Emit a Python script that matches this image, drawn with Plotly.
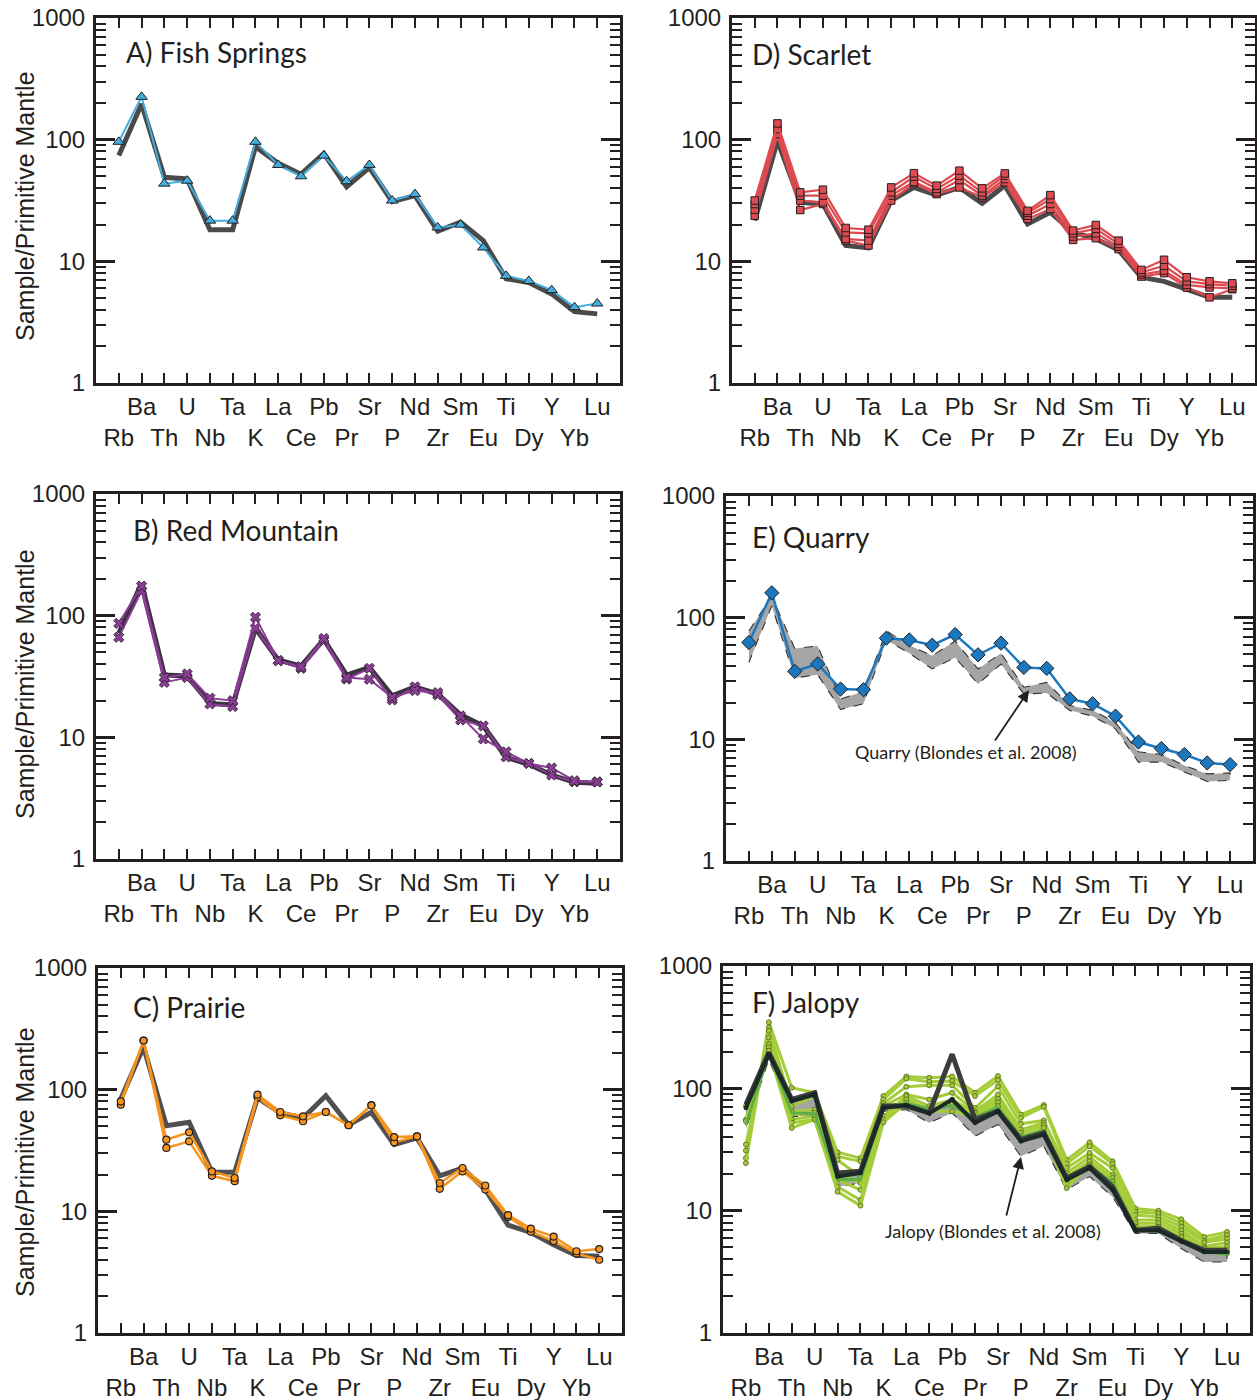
import plotly.graph_objects as go

W, H = 1257, 1400

ELEMENTS = ["Rb", "Ba", "Th", "U", "Nb", "Ta", "K", "La", "Ce", "Pb", "Pr",
            "Sr", "P", "Nd", "Zr", "Sm", "Eu", "Ti", "Dy", "Y", "Yb", "Lu"]
Y_TICKS = [1, 10, 100, 1000]
Y_TICK_LABELS = ["1", "10", "100", "1000"]
Y_MINOR = [2, 3, 4, 5, 6, 7, 8, 9, 20, 30, 40, 50, 60, 70, 80, 90,
           200, 300, 400, 500, 600, 700, 800, 900]
Y_TITLE = "Sample/Primitive Mantle"

# ---------------- A) Fish Springs ----------------
FISH_SPRINGS = [96, 225, 43.5, 46, 21.6, 21.6, 96, 62, 50, 74, 45.5, 62, 31.6,
                35.7, 19, 20, 13, 7.6, 6.9, 5.8, 4.2, 4.5]
FISH_SPRINGS_REF = [74, 196, 49, 47.5, 18.2, 18.2, 87.5, 64, 52, 77, 41, 59, 31,
                    34.7, 17.7, 21, 14.8, 7.2, 6.7, 5.4, 3.86, 3.7]

# ---------------- B) Red Mountain ----------------
RED_MTN_1 = [86.5, 175, 31, 33.2, 21, 20, 97, 42.7, 38.1, 65, 31, 30, 21.3, 24.2,
             23.3, 15, 9.7, 7.6, 6.1, 5.6, 4.4, 4.3]
RED_MTN_2 = [66.4, 160, 28.3, 31, 18.8, 17.9, 78.7, 42.7, 36.9, 62.4, 30.1, 36.9,
             20.3, 26, 22.3, 13.9, 12.4, 6.9, 6.1, 4.9, 4.3, 4.3]
RED_MTN_REF = [71.6, 184, 32.5, 31.9, 19, 18.4, 78.7, 43.2, 38.5, 63.8, 32.5, 37.6,
               21.9, 26, 22.7, 15.3, 12.4, 6.85, 6.0, 4.9, 4.27, 4.2]

# ---------------- C) Prairie ----------------
PRAIRIE_1 = [80, 253, 38.8, 44.6, 21.3, 18.8, 91, 65.5, 60.4, 65.5, 51, 74.3,
             40.8, 41.3, 17.1, 22.7, 16.3, 9.3, 7.2, 6.2, 4.7, 4.9]
PRAIRIE_2 = [75.3, 253, 33.2, 37.6, 19.6, 17.7, 86.5, 61.5, 55, 65.5, 51, 74.3,
             36.9, 41.3, 15.3, 21.3, 15.1, 9.0, 6.8, 5.7, 4.5, 4.0]
PRAIRIE_REF = [83.8, 224, 50.6, 54, 21, 21, 85.5, 64.3, 58.5, 89.3, 51.5, 65.2,
               35.3, 40.1, 19.6, 22.7, 15.1, 7.7, 6.7, 5.3, 4.33, 4.27]

# ---------------- D) Scarlet ----------------
SCARLET_1 = [31.6, 136, 36.9, 38.8, 18.8, 18.2, 40.5, 53, 41.9, 55.6, 39.8, 52.8,
             26, 35, 17.9, 19.9, 14.8, 8.5, 10.3, 7.4, 6.85, 6.6]
SCARLET_2 = [29.6, 122, 34.7, 34.7, 17.3, 17, 36.9, 49.6, 39.4, 50.6, 36.9, 50.6,
             25, 32.5, 17, 18.5, 13.9, 8.1, 9.2, 6.85, 6.5, 6.3]
SCARLET_3 = [26.6, 111, 31.6, 30.5, 15.3, 14.8, 34.7, 45, 36.9, 46.6, 34.7, 47.5,
             23.7, 29.6, 16, 17, 13.2, 7.8, 8.4, 6.4, 6.1, 6.0]
SCARLET_4 = [23.7, 110, 26.4, 29.6, 14.8, 13.5, 31.6, 43.8, 35.7, 40.5, 33.6, 44.6,
             22.3, 26.9, 15, 15.5, 12.6, 7.5, 8, 6.1, 5.06, 5.9]
SCARLET_REF = [21.6, 98, 30.5, 29.6, 13.5, 12.9, 31.5, 40.5, 35, 40.5, 30, 42,
               20.3, 25.3, 17.3, 15.3, 12.4, 7.4, 6.85, 5.9, 5.06, 5.06]

# ---------------- E) Quarry ----------------
QUARRY = [62.5, 160, 36.2, 41.6, 25.9, 25.6, 67.8, 65.6, 59.4, 72.6, 49.5, 61.7,
          39, 38.3, 21.5, 19.6, 15.5, 9.5, 8.4, 7.5, 6.4, 6.2]
QUARRY_BLONDES_HI = [77.8, 150, 55.8, 58.6, 21.5, 24.7, 77.8, 59.4, 48.6, 64.4, 37.9,
                     51, 26.8, 29.4, 19, 17.3, 13.7, 7.9, 7.5, 6.1, 5.2, 5.3]
QUARRY_BLONDES_LO = [42.9, 125, 31.9, 34, 17.6, 19.6, 65.6, 51, 37.9, 47.1, 28.5,
                     41.6, 23.6, 24, 17.3, 15.5, 12.2, 6.5, 6.5, 5.4, 4.5, 4.6]

# ---------------- F) Jalopy ----------------
JALOPY_1 = [26.9, 347, 101, 92, 30, 26.9, 86.5, 125, 122, 125, 92, 126, 61, 73, 26,
            36.2, 25.3, 10.4, 10, 8.5, 6.1, 6.7]
JALOPY_2 = [24.5, 315, 71.6, 86.5, 27.8, 25.3, 81.3, 120, 113, 115, 86.5, 117, 57.4,
            70.7, 24.2, 33.6, 24.2, 9.8, 9.5, 7.9, 5.7, 6.3]
JALOPY_3 = [31, 296, 65, 67, 26, 19, 75.4, 103, 106, 106, 69, 104, 51.3, 54.6, 22.3,
            29.6, 22.3, 9.2, 8.9, 7.4, 5.5, 5.9]
JALOPY_4 = [34.7, 261, 61, 63, 20.3, 16.8, 71.6, 89, 81, 92, 65, 89, 46, 52.3, 20.3,
            27.4, 19.6, 8.4, 8.4, 6.9, 5.1, 5.5]
JALOPY_5 = [55.6, 230, 55.6, 59.3, 17.9, 14.8, 59.3, 86.5, 71.6, 81, 63, 82, 43.3,
            50, 19, 25.3, 18.5, 7.9, 7.9, 6.5, 4.9, 5.1]
JALOPY_6 = [54, 216, 52.3, 55.6, 15.7, 12.2, 55.6, 81.3, 67.1, 76, 59, 77, 40.6,
            47.5, 16.8, 23.7, 17.3, 7.4, 7.4, 6.1, 4.9, 4.75]
JALOPY_7 = [71.6, 203, 47.5, 55.6, 14.3, 11, 52.8, 76.2, 65.1, 65, 59, 71.6, 38.1,
            43.3, 15.3, 23.7, 17.3, 7.4, 7.4, 6.1, 4.9, 4.5]
JALOPY_MID = [50, 195, 63, 62, 18, 18, 70, 75, 68, 72, 58, 70, 40, 45, 18, 23, 17,
              7.1, 7.1, 5.6, 4.6, 4.4]
JALOPY_DARK = [69, 190, 78.7, 89, 19, 20.3, 69, 73, 62.4, 81, 52.3, 65, 36.9, 41.9,
               17.9, 22.3, 14.8, 6.9, 6.9, 5.6, 4.6, 4.6]
JALOPY_REF = [73.8, 196, 81.3, 92, 20.3, 21, 71.6, 71.6, 63, 190, 55.6, 65, 38.1,
              43.3, 18.4, 23, 15.7, 6.9, 7.2, 5.7, 4.75, 4.75]
JALOPY_BLONDES_HI = [71.6, 190, 81, 89, 19, 20.3, 76, 74, 65, 81, 55.6, 65, 36.9,
                     43.3, 17.9, 22.3, 15.7, 6.9, 7.2, 5.7, 4.75, 4.75]
JALOPY_BLONDES_LO = [46, 173, 59, 59, 15.7, 16.8, 65, 67, 52.3, 63, 40.6, 50.6,
                     27.8, 33.6, 14.8, 19, 13, 6.5, 6.5, 4.9, 3.8, 3.8]

# ---------------- styling ----------------
INK = "#231f20"
REF_GRAY = "#4a4a4a"
SANS = "Liberation Sans, Arial, sans-serif"
TICK_FONT = dict(family=SANS, size=24, color=INK)
TITLE_FONT = dict(family="Lato, Open Sans, sans-serif", size=28, color=INK)
NOTE_FONT = dict(family="Lato, Open Sans, sans-serif", size=18, color=INK)
YTITLE_FONT = dict(family=SANS, size=25, color=INK)

# panel boxes in pixels: left, right, top, bottom
BOXES = {
    1: (96, 620, 18, 383),    # A
    2: (732, 1255, 18, 383),  # D
    3: (96, 620, 494, 859),   # B
    4: (726, 1253, 496, 861), # E
    5: (98, 622, 968, 1333),  # C
    6: (723, 1250, 966, 1333),# F
}
PANEL_TITLES = {
    1: ("A) Fish Springs", 124, 52),
    2: ("D) Scarlet", 750, 54),
    3: ("B) Red Mountain", 131, 530),
    4: ("E) Quarry", 750, 537),
    5: ("C) Prairie", 131, 1007),
    6: ("F) Jalopy", 750, 1002),
}
# y-title centre positions (px) for the left column
Y_TITLE_POS = {1: (25, 206), 3: (25, 684), 5: (25, 1162)}

x_ticktext = [e if i % 2 == 1 else "&nbsp;<br>" + e for i, e in enumerate(ELEMENTS)]

fig = go.Figure()


def ax(n, kind):
    return kind if n == 1 else f"{kind}{n}"


def add_line(n, values, color, width, symbol=None, msize=8, mcolor=None,
             mline=INK, mlw=1.0, dash=None):
    mode = "lines+markers" if symbol else "lines"
    tr = go.Scatter(
        x=ELEMENTS, y=values, mode=mode,
        line=dict(color=color, width=width, dash=dash),
        xaxis=ax(n, "x"), yaxis=ax(n, "y"), showlegend=False, hoverinfo="skip",
    )
    if symbol:
        tr.marker = dict(symbol=symbol, size=msize, color=mcolor or color,
                         line=dict(color=mline, width=mlw))
    fig.add_trace(tr)


def add_band(n, hi, lo):
    fig.add_trace(go.Scatter(
        x=ELEMENTS + ELEMENTS[::-1], y=hi + lo[::-1], mode="lines",
        fill="toself", fillcolor="#a5a5a5",
        line=dict(color="#333333", width=1.1, dash="dash"),
        xaxis=ax(n, "x"), yaxis=ax(n, "y"), showlegend=False, hoverinfo="skip",
    ))


# A
add_line(1, FISH_SPRINGS_REF, REF_GRAY, 5)
add_line(1, FISH_SPRINGS, "#45aee0", 2, "triangle-up", 10)
# D
add_line(2, SCARLET_REF, REF_GRAY, 5)
for s in (SCARLET_4, SCARLET_3, SCARLET_2, SCARLET_1):
    add_line(2, s, "#dd4a50", 2.2, "square", 7.5)
# B
add_line(3, RED_MTN_REF, "#3b3340", 5)
for s in (RED_MTN_2, RED_MTN_1):
    add_line(3, s, "#8a3d94", 2, "x", 9, "#8a3d94", INK, 0.8)
# E
add_band(4, QUARRY_BLONDES_HI, QUARRY_BLONDES_LO)
add_line(4, QUARRY, "#1b78bf", 2.5, "diamond", 11)
# C
add_line(5, PRAIRIE_REF, "#505050", 5)
for s in (PRAIRIE_2, PRAIRIE_1):
    add_line(5, s, "#f7941d", 2.5, "circle", 7, "#f7941d", INK, 1.2)
# F
add_band(6, JALOPY_BLONDES_HI, JALOPY_BLONDES_LO)
for s in (JALOPY_1, JALOPY_2, JALOPY_3, JALOPY_4, JALOPY_5, JALOPY_6, JALOPY_7):
    add_line(6, s, "#a5cd3a", 3, "circle", 5, "#a8c63c", "#4a6a1c", 0.8)
add_line(6, JALOPY_MID, "#5fae45", 3)
add_line(6, JALOPY_REF, "#3c3c3c", 5)
add_line(6, JALOPY_DARK, "#1c2a2a", 4, "circle", 4, "#1c2a2a", "#111111", 0.5)

layout = dict(
    width=W, height=H, margin=dict(l=0, r=0, t=0, b=0),
    paper_bgcolor="white", plot_bgcolor="white",
)
annotations = []
for n, (l, r, t, b) in BOXES.items():
    layout[ax(n, "xaxis")] = dict(
        domain=[l / W, r / W], anchor=ax(n, "y"), range=[-1, 22],
        type="category", tickmode="array", tickvals=ELEMENTS, ticktext=x_ticktext,
        ticks="inside", ticklen=10, tickwidth=2.2, tickcolor=INK,
        showline=True, linewidth=3, linecolor=INK, mirror="ticks",
        showgrid=False, zeroline=False, tickfont=TICK_FONT, tickangle=0,
        automargin=False,
    )
    layout[ax(n, "yaxis")] = dict(
        domain=[1 - b / H, 1 - t / H], anchor=ax(n, "x"), type="log", range=[0, 3],
        tickmode="array", tickvals=Y_TICKS, ticktext=Y_TICK_LABELS,
        ticks="inside", ticklen=19, tickwidth=2.5, tickcolor=INK,
        minor=dict(tickmode="array", tickvals=Y_MINOR, ticks="inside", ticklen=10,
                   tickwidth=2.2, tickcolor=INK, showgrid=False),
        showline=True, linewidth=3, linecolor=INK, mirror="ticks",
        showgrid=False, zeroline=False, tickfont=TICK_FONT, automargin=False,
        ticklabelstandoff=3,
    )
    txt, px, py = PANEL_TITLES[n]
    annotations.append(dict(text=txt, x=px / W, y=1 - py / H, xref="paper",
                            yref="paper", xanchor="left", yanchor="middle",
                            showarrow=False, font=TITLE_FONT))

for n, (px, py) in Y_TITLE_POS.items():
    annotations.append(dict(text=Y_TITLE, x=px / W, y=1 - py / H, xref="paper",
                            yref="paper", xanchor="center", yanchor="middle",
                            textangle=-90, showarrow=False, font=YTITLE_FONT))

# Blondes et al. notes and arrows
annotations += [
    dict(text="Quarry (Blondes et al. 2008)", x=966 / W, y=1 - 752 / H,
         xref="paper", yref="paper", xanchor="center", yanchor="middle",
         showarrow=False, font=NOTE_FONT),
    dict(text="", x=1029 / W, y=1 - 690 / H, xref="paper", yref="paper",
         ax=-35, ay=52, showarrow=True, arrowhead=2, arrowsize=1.3,
         arrowwidth=1.8, arrowcolor=INK),
    dict(text="Jalopy (Blondes et al. 2008)", x=993 / W, y=1 - 1231 / H,
         xref="paper", yref="paper", xanchor="center", yanchor="middle",
         showarrow=False, font=NOTE_FONT),
    dict(text="", x=1021 / W, y=1 - 1157 / H, xref="paper", yref="paper",
         ax=-15, ay=60, showarrow=True, arrowhead=2, arrowsize=1.3,
         arrowwidth=1.8, arrowcolor=INK),
]
layout["annotations"] = annotations
fig.update_layout(**layout)

fig.write_html("out.html", config={"displayModeBar": False},
               post_script="document.body.style.margin='0';")
